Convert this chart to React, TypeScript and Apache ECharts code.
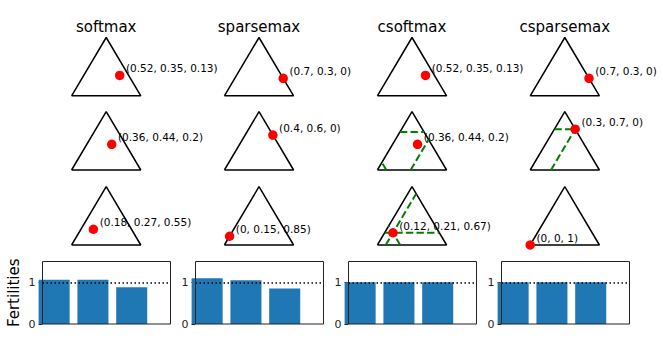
import React, { useEffect, useRef } from "react";
import * as echarts from "echarts";

// ---------- data ----------
const methods = ["softmax", "sparsemax", "csoftmax", "csparsemax"];
const softmaxAttn = [
  [0.52, 0.35, 0.13],
  [0.36, 0.44, 0.2],
  [0.18, 0.27, 0.55],
];
const sparsemaxAttn = [
  [0.7, 0.3, 0],
  [0.4, 0.6, 0],
  [0, 0.15, 0.85],
];
const csoftmaxAttn = [
  [0.52, 0.35, 0.13],
  [0.36, 0.44, 0.2],
  [0.12, 0.21, 0.67],
];
const csparsemaxAttn = [
  [0.7, 0.3, 0],
  [0.3, 0.7, 0],
  [0, 0, 1],
];
const attentions = [softmaxAttn, sparsemaxAttn, csoftmaxAttn, csparsemaxAttn];
const constrained = [false, false, true, true];
const barPositions = [0, 1, 2];
const yTicks = [0, 1];
const yLabel = "Fertilities";

// ---------- layout ----------
const W = 663;
const H = 342;
const FONT = "DejaVu Sans, Bitstream Vera Sans, sans-serif";
const colCenters = [106.2, 259, 412, 564.8];
const triApexY = [37.5, 111.7, 186.7];
const triW = 69.2;
const triH = 58.3;
const barTop = 261.5;
const barH = 62.5;
const barW = 128;
const xMin = -0.3;
const xMax = 3;

function fmt(v: number[]) {
  return "(" + v.map((x) => String(x)).join(", ") + ")";
}
function toXY(p: number[]) {
  // p[0] -> bottom-right, p[1] -> apex, p[2] -> bottom-left
  return [p[0] + 0.5 * p[1], p[1]];
}
function constraintSegments(u: number[]) {
  const segs: number[][][] = [];
  const ok = (c: number) => c > 1e-6 && c < 1 - 1e-6;
  if (ok(u[0])) segs.push([[u[0], 0], [u[0] + 0.5 * (1 - u[0]), 1 - u[0]]]);
  if (ok(u[1])) segs.push([[0.5 * u[1], u[1]], [1 - 0.5 * u[1], u[1]]]);
  if (ok(u[2])) segs.push([[1 - u[2], 0], [0.5 * (1 - u[2]), 1 - u[2]]]);
  return segs;
}

function buildOption() {
  const grid: any[] = [];
  const xAxis: any[] = [];
  const yAxis: any[] = [];
  const series: any[] = [];
  const graphic: any[] = [];

  methods.forEach((m, c) => {
    const att = attentions[c];
    graphic.push({
      type: "text",
      x: colCenters[c],
      y: 27,
      style: {
        text: m,
        fontFamily: FONT,
        fontSize: 15,
        fill: "#000",
        align: "center",
        verticalAlign: "middle",
      },
      z: 100,
    });
    att.forEach((p, r) => {
      const gi = grid.length;
      grid.push({
        left: colCenters[c] - triW / 2,
        top: triApexY[r],
        width: triW,
        height: triH,
        show: false,
      });
      xAxis.push({ type: "value", gridIndex: gi, min: 0, max: 1, show: false });
      yAxis.push({ type: "value", gridIndex: gi, min: 0, max: 1, show: false });
      series.push({
        type: "line",
        xAxisIndex: gi,
        yAxisIndex: gi,
        data: [[0, 0], [1, 0], [0.5, 1], [0, 0]],
        symbol: "none",
        clip: false,
        silent: true,
        lineStyle: { color: "#000", width: 1.5 },
        z: 2,
      });
      if (constrained[c] && r > 0) {
        const cum = [0, 0, 0];
        for (let k = 0; k < r; k++) for (let j = 0; j < 3; j++) cum[j] += att[k][j];
        const u = cum.map((s) => 1 - s);
        constraintSegments(u).forEach((seg) => {
          series.push({
            type: "line",
            xAxisIndex: gi,
            yAxisIndex: gi,
            data: seg,
            symbol: "none",
            clip: false,
            silent: true,
            lineStyle: { color: "#008000", width: 2, type: [7.4, 3.2] },
            z: 3,
          });
        });
      }
      series.push({
        type: "scatter",
        xAxisIndex: gi,
        yAxisIndex: gi,
        data: [toXY(p)],
        symbol: "circle",
        symbolSize: 9.5,
        clip: false,
        silent: true,
        itemStyle: { color: "#ff0000", opacity: 1 },
        label: {
          show: true,
          position: "right",
          distance: 1.5,
          offset: [0, -7],
          formatter: fmt(p),
          fontFamily: FONT,
          fontSize: 10.5,
          color: "#000",
          opacity: 1,
        },
        z: 4,
      });
    });

    // bar chart
    const fert = barPositions.map((_, j) => att.reduce((s, row) => s + row[j], 0));
    const gi = grid.length;
    const left = Math.round(colCenters[c] - barW / 2) + 0.5;
    grid.push({ left, top: barTop, width: barW, height: barH, show: false });
    xAxis.push({
      type: "value",
      gridIndex: gi,
      min: xMin,
      max: xMax,
      show: false,
      axisLine: { onZero: false },
    });
    yAxis.push({
      type: "value",
      gridIndex: gi,
      min: 0,
      max: 1.5,
      interval: 1,
      position: "left",
      axisLine: { show: false, onZero: false },
      splitLine: { show: false },
      axisTick: {
        show: true,
        customValues: yTicks,
        length: 4,
        lineStyle: { color: "#222", width: 1 },
      },
      axisLabel: {
        customValues: yTicks,
        fontFamily: FONT,
        fontSize: 11,
        color: "#222",
        margin: 7,
      },
    });
    series.push({
      type: "bar",
      xAxisIndex: gi,
      yAxisIndex: gi,
      data: barPositions.map((x, j) => [x, fert[j]]),
      barWidth: (0.8 * barW) / (xMax - xMin),
      itemStyle: { color: "#1f77b4", opacity: 1 },
      silent: true,
      markLine: {
        silent: true,
        symbol: ["none", "none"],
        label: { show: false },
        lineStyle: { color: "#000", type: [1.5, 2.5], width: 1.5, opacity: 1 },
        data: [{ yAxis: 1 }],
      },
    });
    graphic.push({
      type: "rect",
      shape: { x: left, y: barTop, width: barW, height: barH },
      style: { fill: "none", stroke: "#222", lineWidth: 1 },
      z: 100,
      silent: true,
    });
  });

  graphic.push({
    type: "text",
    x: 14,
    y: barTop + barH / 2,
    rotation: Math.PI / 2,
    style: {
      text: yLabel,
      fontFamily: FONT,
      fontSize: 15,
      fill: "#000",
      align: "center",
      verticalAlign: "middle",
    },
    z: 100,
  });

  return {
    animation: false,
    backgroundColor: "#fff",
    textStyle: { fontFamily: FONT },
    grid,
    xAxis,
    yAxis,
    series,
    graphic,
  };
}

export default function App() {
  const ref = useRef<HTMLDivElement>(null);
  useEffect(() => {
    if (!ref.current) return;
    const chart = echarts.init(ref.current, undefined, { renderer: "svg" });
    chart.setOption(buildOption() as any);
    return () => chart.dispose();
  }, []);
  return (
    <div
      ref={ref}
      style={{ position: "fixed", left: 0, top: 0, width: W, height: H, background: "#fff" }}
    />
  );
}
